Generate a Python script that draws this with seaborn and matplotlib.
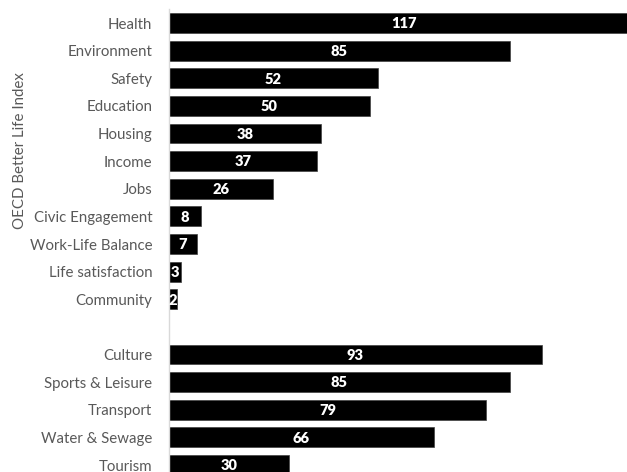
import matplotlib
matplotlib.use("Agg")
import matplotlib.pyplot as plt
import seaborn as sns
import pandas as pd
import numpy as np

categories = ["Health", "Environment", "Safety", "Education", "Housing", "Income", "Jobs",
              "Civic Engagement", "Work-Life Balance", "Life satisfaction", "Community", " ",
              "Culture", "Sports & Leisure", "Transport", "Water & Sewage", "Tourism"]
values = [117, 85, 52, 50, 38, 37, 26, 8, 7, 3, 2, np.nan, 93, 85, 79, 66, 30]
axis_title = "OECD Better Life Index"

df = pd.DataFrame({"category": categories, "value": values})

sns.set_theme(style="white")
plt.rcParams["font.family"] = ["Lato", "DejaVu Sans"]

W, H = 627, 472
fig = plt.figure(figsize=(W / 100, H / 100), dpi=100)
left, right, top, bottom = 169, 627, 9.2, 472
ax = fig.add_axes([left / W, 1 - bottom / H, (right - left) / W, (bottom - top) / H])

sns.barplot(data=df, y="category", x="value", order=categories, color="black",
            width=0.72, ax=ax, orient="h", edgecolor="#404040", linewidth=0.5,
            saturation=1)

ax.set_xlim(0, (right - left) / 4.01)
ax.set_ylim(16 + (472 - 465.0) / 27.66, -0.5)

for i, v in enumerate(values):
    if np.isnan(v):
        continue
    ax.text(v / 2, i + 0.03, f"{int(v)}", ha="center", va="center", color="white",
            fontsize=10.5, fontweight="heavy")

ax.set_xlabel("")
ax.set_ylabel("")
ax.set_xticks([])
ax.tick_params(axis="y", length=0, pad=12, labelsize=10.8, labelcolor="#595959")
for s in ["top", "right", "bottom"]:
    ax.spines[s].set_visible(False)
ax.spines["left"].set_color("#d9d9d9")
ax.spines["left"].set_linewidth(1)

ax.text(-149 / 4.01, 4.6, axis_title, rotation=90, ha="center", va="center",
        fontsize=10.8, color="#595959")

fig.savefig("out.png", dpi=100)
